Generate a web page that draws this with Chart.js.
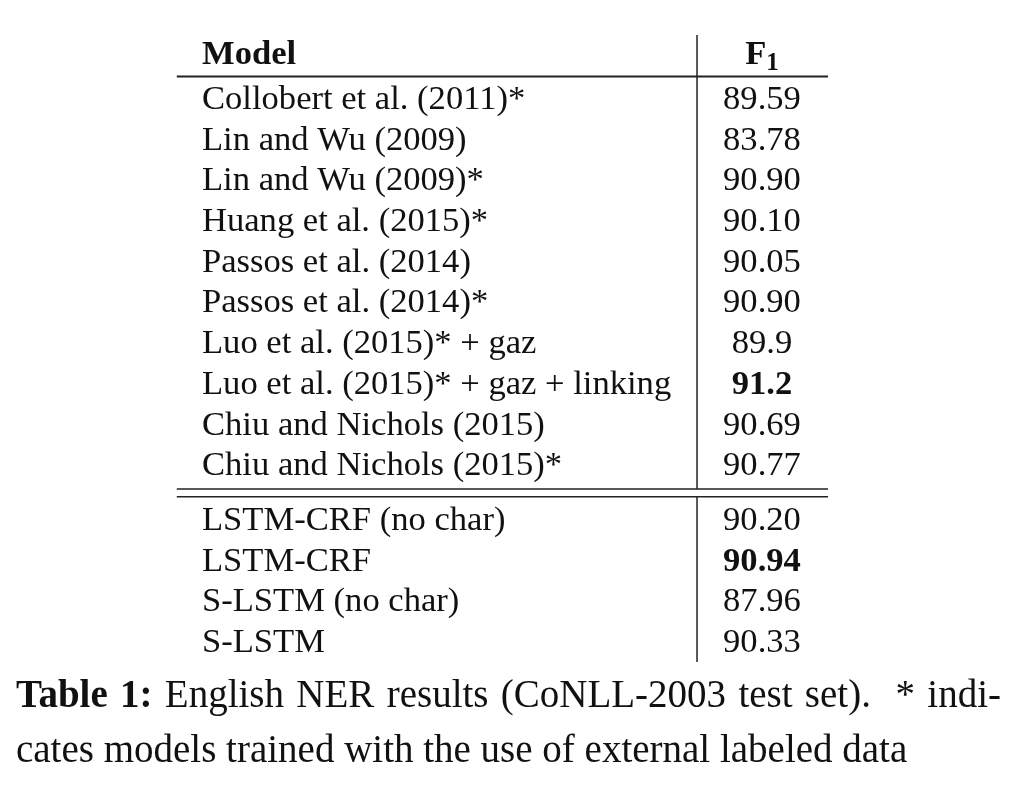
<!DOCTYPE html>
<html>
<head>
<meta charset="utf-8">
<title>English NER results</title>
<script src="https://cdn.jsdelivr.net/npm/chart.js@4"></script>
<style>
  html, body { margin: 0; padding: 0; background: #fff; }
  #wrap { position: relative; width: 1024px; height: 795px; overflow: hidden; }
  #tableChart { position: absolute; left: 0; top: 0; }
  .caption {
    position: absolute; left: 16px; top: 666px; width: 985px;
    font-family: "Liberation Serif", "Times New Roman", serif;
    font-size: 39px; line-height: 55px; color: #111;
  }
  .caption .l1 { text-align: justify; text-align-last: justify; white-space: nowrap; }
  .caption b { font-weight: bold; }
</style>
</head>
<body>
<div id="wrap">
  <canvas id="tableChart" width="1024" height="795"></canvas>
  <div class="caption">
    <div class="l1"><b>Table 1:</b> English NER results (CoNLL-2003 test set). &nbsp;* indi-</div>
    <div>cates models trained with the use of external labeled data</div>
  </div>
</div>
<script>
"use strict";

// Table data
const models = [
  'Collobert et al. (2011)*',
  'Lin and Wu (2009)',
  'Lin and Wu (2009)*',
  'Huang et al. (2015)*',
  'Passos et al. (2014)',
  'Passos et al. (2014)*',
  'Luo et al. (2015)* + gaz',
  'Luo et al. (2015)* + gaz + linking',
  'Chiu and Nichols (2015)',
  'Chiu and Nichols (2015)*',
  'LSTM-CRF (no char)',
  'LSTM-CRF',
  'S-LSTM (no char)',
  'S-LSTM'
];
const f1Scores = [89.59, 83.78, 90.90, 90.10, 90.05, 90.90, 89.9, 91.2, 90.69, 90.77, 90.20, 90.94, 87.96, 90.33];
const decimals = [2, 2, 2, 2, 2, 2, 1, 1, 2, 2, 2, 2, 2, 2];
const isBest = [false, false, false, false, false, false, false, true, false, false, false, true, false, false];
const group = [0, 0, 0, 0, 0, 0, 0, 0, 0, 0, 1, 1, 1, 1];
const headers = ['Model', 'F', '1'];

// layout (in scale units: x = column, y = row)
const GROUP_GAP = 0.34;
const HEADER_ROW = -1.1;
const RULE_HEADER = -0.8;
const RULE_TOP = -1.82;
const RULE_MID = [9.337, 9.526];
const RULE_BOTTOM = 13.59;
const COL_LEFT = -0.045, COL_SPLIT = 0.884, COL_RIGHT = 1.118;

const FONT = '"Liberation Serif", "Times New Roman", serif';
const TEXT_SIZE = 34.6;

function rowValue(i) {
  return i + group[i] * GROUP_GAP;
}

const tablePlugin = {
  id: 'tableText',
  afterDatasetsDraw(chart) {
    const ctx = chart.ctx;
    const xs = chart.scales.x;
    const ys = chart.scales.y;
    const meta = chart.getDatasetMeta(0);

    ctx.save();
    ctx.fillStyle = '#111';
    ctx.textBaseline = 'alphabetic';

    // header
    const hy = ys.getPixelForValue(HEADER_ROW);
    ctx.font = `bold ${TEXT_SIZE}px ${FONT}`;
    ctx.textAlign = 'left';
    ctx.fillText(headers[0], xs.getPixelForValue(0), hy);
    const fW = ctx.measureText(headers[1]).width;
    ctx.font = `bold ${Math.round(TEXT_SIZE * 0.72)}px ${FONT}`;
    const sW = ctx.measureText(headers[2]).width;
    const fx = xs.getPixelForValue(1) - (fW + sW) / 2;
    ctx.fillText(headers[2], fx + fW, hy + 6);
    ctx.font = `bold ${TEXT_SIZE}px ${FONT}`;
    ctx.fillText(headers[1], fx, hy);

    // rows
    meta.data.forEach((pt, i) => {
      ctx.font = `${TEXT_SIZE}px ${FONT}`;
      ctx.textAlign = 'left';
      ctx.fillText(models[i], xs.getPixelForValue(0), pt.y);
      ctx.font = `${isBest[i] ? 'bold ' : ''}${TEXT_SIZE}px ${FONT}`;
      ctx.textAlign = 'center';
      ctx.fillText(f1Scores[i].toFixed(decimals[i]), pt.x, pt.y);
    });

    // rules
    ctx.strokeStyle = '#222';
    const hline = (v, w) => {
      const y = ys.getPixelForValue(v);
      ctx.lineWidth = w;
      ctx.beginPath();
      ctx.moveTo(xs.getPixelForValue(COL_LEFT), y);
      ctx.lineTo(xs.getPixelForValue(COL_RIGHT), y);
      ctx.stroke();
    };
    const vline = (a, b) => {
      const x = xs.getPixelForValue(COL_SPLIT);
      ctx.lineWidth = 1.5;
      ctx.beginPath();
      ctx.moveTo(x, ys.getPixelForValue(a));
      ctx.lineTo(x, ys.getPixelForValue(b));
      ctx.stroke();
    };
    hline(RULE_HEADER, 2);
    hline(RULE_MID[0], 1.6);
    hline(RULE_MID[1], 1.6);
    vline(RULE_TOP, RULE_MID[0]);
    vline(RULE_MID[1], RULE_BOTTOM);
    ctx.restore();
  }
};

const ctx = document.querySelector('#tableChart').getContext('2d');

const data = {
  datasets: [
    {
      label: 'F1',
      data: f1Scores.map((v, i) => ({ x: 1, y: rowValue(i), f1: v })),
      pointRadius: 0,
      pointHoverRadius: 0,
      showLine: false,
    }
  ]
};

const config = {
  type: 'scatter',
  data: data,
  options: {
    responsive: false,
    animation: false,
    events: [],
    layout: { padding: 0 },
    plugins: {
      legend: { display: false },
      tooltip: { enabled: false },
      title: { display: false }
    },
    scales: {
      x: { type: 'linear', display: false, min: -0.3607, max: 1.4679 },
      y: { type: 'linear', display: false, reverse: true, min: -2.678, max: 16.855 }
    }
  },
  plugins: [tablePlugin]
};

const myChart = new Chart(ctx, config);
</script>
</body>
</html>
